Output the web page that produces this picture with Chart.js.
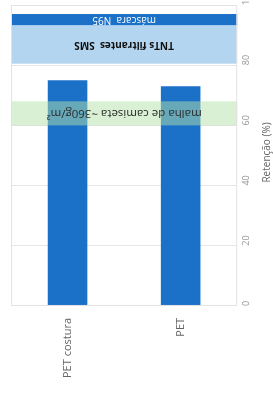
<!DOCTYPE html>
<html>
<head>
<meta charset="utf-8">
<script src="https://cdn.jsdelivr.net/npm/chart.js@4"></script>
<style>
  html, body { margin: 0; padding: 0; background: #fff; }
  #wrap { width: 273px; height: 394px; }
</style>
</head>
<body>
<div id="wrap"><canvas id="chart"></canvas></div>
<script>
// categories and retention values
const categories = ['PET costura', 'PET'];
const retention = [75, 73];

// reference bands (low / high retention %)
const bandLabels = ['malha de camiseta ~360g/m²', 'TNTs filtrantes  SMS', 'máscara  N95'];
const bandLow = [60, 80.5, 93.3];
const bandHigh = [68, 93.3, 97];
const bandFills = ['rgba(180,225,170,0.5)', '#b4d5f0', '#1b70c8'];
const bandText = ['#2a2a2a', '#111111', '#ffffff'];
const bandFonts = ['11.5px "Open Sans"', 'bold 10px "Open Sans"', '10px "Open Sans"'];

const yTicks = [0, 20, 40, 60, 80, 100];
const yTitle = 'Retenção (%)';

// draws the horizontal bands over the bars, text upside down
const bandPlugin = {
    id: 'bands',
    afterDatasetsDraw(chart) {
        const ctx = chart.ctx;
        const area = chart.chartArea;
        const y = chart.scales.y;
        ctx.save();
        bandLabels.forEach((label, i) => {
            const top = y.getPixelForValue(bandHigh[i]);
            const bottom = y.getPixelForValue(bandLow[i]);
            ctx.fillStyle = bandFills[i];
            ctx.fillRect(area.left, top, area.right - area.left, bottom - top);
            ctx.save();
            ctx.translate((area.left + area.right) / 2, (top + bottom) / 2);
            ctx.rotate(Math.PI);
            ctx.font = bandFonts[i];
            ctx.fillStyle = bandText[i];
            ctx.textAlign = 'center';
            ctx.textBaseline = 'middle';
            ctx.fillText(label, 0, 0);
            ctx.restore();
        });
        // plot frame
        ctx.strokeStyle = '#e3e3e3';
        ctx.lineWidth = 1;
        ctx.strokeRect(area.left + 0.5, area.top + 0.5, area.right - area.left - 1, area.bottom - area.top - 1);

        // axis title, reading bottom to top
        ctx.save();
        ctx.translate(267, y.getPixelForValue(51));
        ctx.rotate(-Math.PI / 2);
        ctx.font = '10px "Open Sans"';
        ctx.fillStyle = '#666';
        ctx.textAlign = 'center';
        ctx.textBaseline = 'middle';
        ctx.fillText(yTitle, 0, 0);
        ctx.restore();
        ctx.restore();
    }
};

new Chart(document.getElementById('chart'), {
    type: 'bar',
    data: {
        labels: categories,
        datasets: [{
            data: retention,
            backgroundColor: '#1b70c8',
            barPercentage: 0.35,
            categoryPercentage: 1
        }]
    },
    options: {
        responsive: true,
        maintainAspectRatio: false,
        animation: false,
        layout: { padding: { top: 5, left: 11, right: 7, bottom: 4 } },
        plugins: {
            legend: { display: false },
            tooltip: { enabled: false }
        },
        scales: {
            x: {
                grid: { display: false, drawTicks: false },
                border: { display: false },
                afterFit(scale) { scale.paddingLeft = 0; scale.paddingRight = 0; },
                ticks: {
                    minRotation: 90,
                    maxRotation: 90,
                    padding: 12,
                    color: '#666',
                    font: { family: 'Open Sans', size: 11 }
                }
            },
            y: {
                position: 'right',
                min: 0,
                max: 100,
                afterBuildTicks(scale) {
                    scale.ticks = yTicks.map(v => ({ value: v }));
                },
                afterFit(scale) { scale.paddingTop = 0; scale.paddingBottom = 0; },
                grid: { color: '#e6e6e6', drawTicks: false },
                border: { display: false },
                ticks: {
                    minRotation: 90,
                    maxRotation: 90,
                    padding: 9,
                    color: '#999',
                    font: { family: 'Open Sans', size: 9 }
                }
            }
        }
    },
    plugins: [bandPlugin]
});
</script>
</body>
</html>
